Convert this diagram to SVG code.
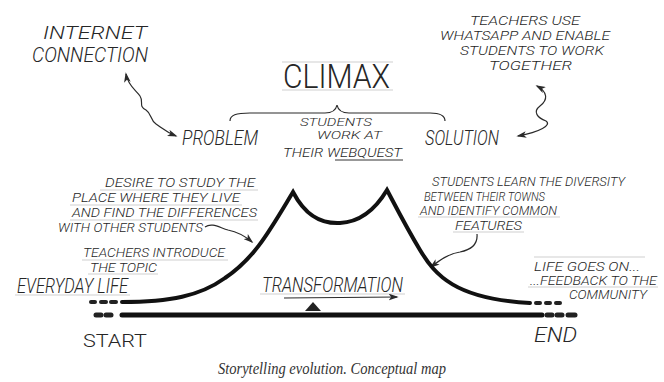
<svg xmlns="http://www.w3.org/2000/svg" width="664" height="382" viewBox="0 0 664 382">
<style>
.h{font-family:Roboto,"Open Sans","DejaVu Sans Condensed",sans-serif;font-style:italic;font-weight:300;fill:#262626;}
.u{font-family:Roboto,"Open Sans","DejaVu Sans Condensed",sans-serif;font-weight:300;fill:#262626;}
.cap{font-family:"Liberation Serif",serif;font-style:italic;fill:#333;font-size:16px;}
.g{stroke:#cfcfcf;stroke-width:1;fill:none;}
.w{stroke:#2a2a2a;stroke-width:1.2;fill:none;}
.thick{stroke:#111;fill:none;stroke-linecap:round;}
.dash{stroke:#222;stroke-linecap:round;}
</style>
<defs>
<marker id="ah" viewBox="0 0 12 8" refX="10" refY="4" markerWidth="10" markerHeight="7" markerUnits="userSpaceOnUse" orient="auto-start-reverse">
<path d="M0,0 L12,4 L0,8 L3,4 z" fill="#2a2a2a"/>
</marker>
</defs>
<rect width="664" height="382" fill="#fff"/>

<g id="guides">
<line class="g" x1="282" y1="62" x2="393" y2="62"/>
<line class="g" x1="282" y1="90" x2="393" y2="90"/>
<line class="g" x1="100" y1="190" x2="258" y2="190"/>
<line class="g" x1="70" y1="205" x2="242" y2="205"/>
<line class="g" x1="70" y1="220" x2="258" y2="220"/>
<line class="g" x1="82" y1="260" x2="228" y2="260"/>
<line class="g" x1="88" y1="274" x2="158" y2="274"/>
<line class="g" x1="15" y1="295" x2="130" y2="295"/>
<line class="g" x1="260" y1="294" x2="405" y2="294"/>
<line class="g" x1="418" y1="217" x2="560" y2="217"/>
<line class="g" x1="453" y1="232" x2="524" y2="232"/>
<line class="g" x1="534" y1="257" x2="645" y2="257"/>
<line class="g" x1="528" y1="287" x2="658" y2="287"/>
</g>

<g id="connectors">
<path class="w" d="M126,74 C128,86 136,90 140,96 C144,102 138,106 146,110 C152,114 150,120 156,124 C162,128 166,132 176,136" marker-start="url(#ah)" marker-end="url(#ah)"/>
<path class="w" d="M537,86 C548,92 548,100 540,106 C532,112 538,118 546,121 C552,125 540,132 518,136" marker-start="url(#ah)" marker-end="url(#ah)"/>
<path class="w" d="M205,227 C212,222 220,228 228,230 C238,232 245,236 252,242" marker-end="url(#ah)"/>
<path class="w" d="M477,234 C478,245 470,250 460,252 C448,254 440,260 431,267" marker-end="url(#ah)"/>
<path class="w" d="M230,121 C230,115 236,113 250,113 L325,113 C333,113 336,110 337,105 C338,110 341,113 349,113 L430,113 C440,113 445,115 445,121" stroke-width="1.6"/>
<path class="w" d="M284,298 L397,297" stroke-width="1.6" marker-end="url(#ah)"/>
<path class="thick" stroke-width="4" d="M122,302 C170,302 200,296 225,278 C255,258 270,230 293,192 C305,215 320,224 340,223 C360,222 375,210 387,190 C395,205 405,225 420,250 C435,275 455,299 530,303"/>
<path class="thick" stroke-width="5" d="M122,315 L542,315"/>
<g class="dash" stroke-width="4">
<line x1="91" y1="302" x2="95" y2="302"/>
<line x1="101" y1="302" x2="106" y2="302"/>
<line x1="111" y1="302" x2="116" y2="302"/>
<line x1="536" y1="303" x2="540" y2="303"/>
<line x1="546" y1="303" x2="550" y2="303"/>
<line x1="556" y1="303" x2="560" y2="303"/>
</g>
<g class="dash" stroke-width="5">
<line x1="96" y1="315" x2="101" y2="315"/>
<line x1="106" y1="315" x2="111" y2="315"/>
<line x1="547" y1="315" x2="552" y2="315"/>
<line x1="557" y1="315" x2="562" y2="315"/>
<line x1="568" y1="315" x2="575" y2="315"/>
</g>
<path d="M313,302 L321,311 L305,311 z" fill="#222"/>
</g>

<g id="internet">
<text class="h" x="43" y="39" font-size="19" textLength="104" lengthAdjust="spacingAndGlyphs">INTERNET</text>
<text class="h" x="32" y="62" font-size="20" textLength="116" lengthAdjust="spacingAndGlyphs">CONNECTION</text>
</g>
<g id="problem">
<text class="h" x="182" y="145" font-size="20" textLength="76" lengthAdjust="spacingAndGlyphs">PROBLEM</text>
</g>
<g id="climax">
<text class="u" x="283" y="88" font-size="34" textLength="107" lengthAdjust="spacingAndGlyphs">CLIMAX</text>
</g>
<g id="webquest">
<text class="h" x="300" y="126" font-size="11" textLength="72" lengthAdjust="spacingAndGlyphs">STUDENTS</text>
<text class="h" x="317" y="139" font-size="11" textLength="65" lengthAdjust="spacingAndGlyphs">WORK AT</text>
<text class="h" x="283" y="157" font-size="13" textLength="119" lengthAdjust="spacingAndGlyphs">THEIR WEBQUEST</text>
<line x1="335" y1="160" x2="403" y2="160" stroke="#333" stroke-width="1"/>
</g>
<g id="solution">
<text class="h" x="425" y="145" font-size="20" textLength="74" lengthAdjust="spacingAndGlyphs">SOLUTION</text>
</g>
<g id="teachers-use">
<text class="h" x="470" y="25" font-size="13" textLength="110" lengthAdjust="spacingAndGlyphs">TEACHERS USE</text>
<text class="h" x="440" y="40" font-size="13" textLength="170" lengthAdjust="spacingAndGlyphs">WHATSAPP AND ENABLE</text>
<text class="h" x="460" y="55" font-size="13" textLength="144" lengthAdjust="spacingAndGlyphs">STUDENTS TO WORK</text>
<text class="h" x="489" y="70" font-size="13" textLength="83" lengthAdjust="spacingAndGlyphs">TOGETHER</text>
</g>
<g id="desire">
<text class="h" x="105" y="187" font-size="13" textLength="150" lengthAdjust="spacingAndGlyphs">DESIRE TO STUDY THE</text>
<text class="h" x="72" y="202" font-size="13" textLength="168" lengthAdjust="spacingAndGlyphs">PLACE WHERE THEY LIVE</text>
<text class="h" x="72" y="217" font-size="13" textLength="185" lengthAdjust="spacingAndGlyphs">AND FIND THE DIFFERENCES</text>
<text class="h" x="58" y="232" font-size="13" textLength="145" lengthAdjust="spacingAndGlyphs">WITH OTHER STUDENTS</text>
</g>
<g id="teachers-introduce">
<text class="h" x="83" y="257" font-size="13" textLength="142" lengthAdjust="spacingAndGlyphs">TEACHERS  INTRODUCE</text>
<text class="h" x="90" y="272" font-size="13" textLength="67" lengthAdjust="spacingAndGlyphs">THE TOPIC</text>
</g>
<g id="everyday-life">
<text class="h" x="17" y="293" font-size="20" textLength="111" lengthAdjust="spacingAndGlyphs">EVERYDAY LIFE</text>
</g>
<g id="transformation">
<text class="h" x="262" y="292" font-size="20" textLength="141" lengthAdjust="spacingAndGlyphs">TRANSFORMATION</text>
</g>
<g id="students-learn">
<text class="h" x="432" y="186" font-size="12.5" textLength="193" lengthAdjust="spacingAndGlyphs">STUDENTS LEARN THE DIVERSITY</text>
<text class="h" x="424" y="200.5" font-size="12.5" textLength="121" lengthAdjust="spacingAndGlyphs">BETWEEN THEIR TOWNS</text>
<text class="h" x="420" y="215" font-size="12.5" textLength="137" lengthAdjust="spacingAndGlyphs">AND IDENTIFY COMMON</text>
<text class="h" x="455" y="230" font-size="12.5" textLength="67" lengthAdjust="spacingAndGlyphs">FEATURES</text>
</g>
<g id="life-goes-on">
<text class="h" x="534" y="271" font-size="13" textLength="106" lengthAdjust="spacingAndGlyphs">LIFE GOES ON...</text>
<text class="h" x="530" y="285" font-size="12" textLength="127" lengthAdjust="spacingAndGlyphs">...FEEDBACK TO THE</text>
<text class="h" x="569" y="299" font-size="12" textLength="78" lengthAdjust="spacingAndGlyphs">COMMUNITY</text>
</g>
<g id="start">
<text class="u" x="83" y="347" font-size="19" textLength="64" lengthAdjust="spacingAndGlyphs">START</text>
</g>
<g id="end">
<text class="h" x="534" y="342" font-size="20" textLength="43" lengthAdjust="spacingAndGlyphs">END</text>
</g>
<g id="caption">
<text class="cap" x="218" y="374" textLength="228" lengthAdjust="spacingAndGlyphs">Storytelling evolution. Conceptual map</text>
</g>
</svg>
